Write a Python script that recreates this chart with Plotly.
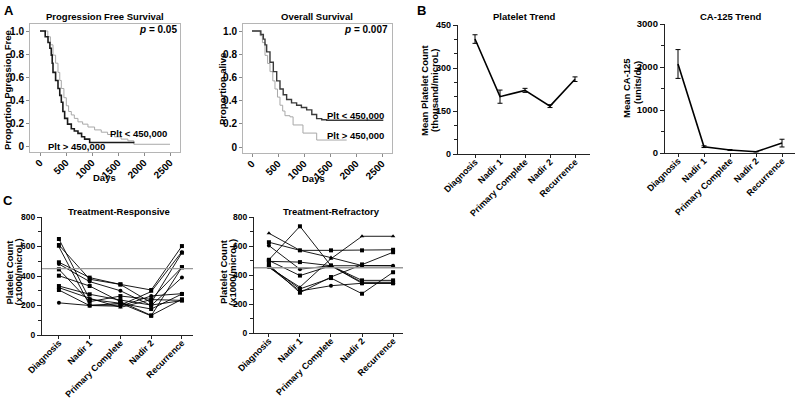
import plotly.graph_objects as go

FONT = "Liberation Sans"

# ---------------- Panel A data (Kaplan-Meier) ----------------
pfs_hi_days = [0, 60, 100, 154, 190, 217, 235, 250, 300, 346, 380, 410, 440, 474, 530, 602, 660, 730, 800, 858, 955, 1800]
pfs_hi_surv = [1.0, 1.0, 0.95, 0.90, 0.85, 0.79, 0.72, 0.64, 0.57, 0.50, 0.44, 0.38, 0.30, 0.24, 0.19, 0.15, 0.13, 0.11, 0.08, 0.06, 0.03, 0.025]
pfs_lo_days = [0, 80, 150, 200, 250, 300, 346, 380, 410, 460, 506, 550, 602, 660, 730, 820, 922, 1050, 1178, 1300, 1434, 1560, 1690, 1805, 2500]
pfs_lo_surv = [1.0, 1.0, 0.95, 0.88, 0.79, 0.72, 0.64, 0.57, 0.50, 0.42, 0.35, 0.30, 0.27, 0.24, 0.21, 0.19, 0.165, 0.14, 0.12, 0.10, 0.08, 0.06, 0.045, 0.015, 0.015]

os_lo_days = [0, 122, 170, 218, 250, 282, 346, 410, 475, 538, 600, 666, 760, 858, 950, 1051, 1150, 1243, 1340, 1436, 2525]
os_lo_surv = [1.0, 1.0, 0.97, 0.93, 0.88, 0.82, 0.73, 0.65, 0.57, 0.50, 0.45, 0.41, 0.38, 0.36, 0.34, 0.32, 0.28, 0.245, 0.235, 0.23, 0.23]
os_hi_days = [0, 100, 154, 200, 250, 300, 346, 400, 442, 490, 538, 590, 634, 730, 790, 980, 1244, 1821]
os_hi_surv = [1.0, 1.0, 0.96, 0.90, 0.79, 0.72, 0.65, 0.57, 0.50, 0.43, 0.36, 0.31, 0.27, 0.26, 0.19, 0.12, 0.06, 0.06]

day_ticks = [0, 500, 1000, 1500, 2000, 2500]
prop_ticks = [0, 0.2, 0.4, 0.6, 0.8, 1.0]
prop_labels = ["0", "0.2", "0.4", "0.6", "0.8", "1.0"]

# ---------------- Panel B data ----------------
stages = ["Diagnosis", "Nadir 1", "Primary Complete", "Nadir 2", "Recurrence"]
plt_mean = [401, 200, 222, 167, 261]
plt_err = [15, 23, 7, 5, 8]
ca_mean = [2070, 147, 70, 30, 230]
ca_err = [335, 20, 10, 5, 90]

# ---------------- Panel C data ----------------
responsive = [
    [651, 242, 215, 130, 460],
    [610, 378, 343, 305, 603],
    [598, 203, 203, 294, 565],
    [493, 389, 343, 219, 558],
    [481, 362, 300, 200, 390],
    [445, 226, 264, 242, 459],
    [402, 332, 226, 133, 242],
    [332, 276, 237, 203, 233],
    [321, 249, 187, 240, 235],
    [305, 199, 215, 176, 278],
    [218, 200, 195, 265, 280],
]
refractory = [
    [688, 570, 520, 465, 464],
    [626, 570, 570, 570, 574],
    [603, 440, 464, 464, 464],
    [505, 736, 464, 363, 363],
    [494, 489, 464, 350, 350],
    [500, 396, 464, 343, 343],
    [453, 316, 512, 667, 667],
    [460, 304, 379, 271, 419],
    [455, 290, 326, 343, 343],
    [470, 278, 386, 473, 557],
]
threshold = 450

# ---------------- helpers ----------------
W, H = 800, 400


def dx(a, b):
    return [a / W, b / W]


def dy(top, bottom):
    return [1 - bottom / H, 1 - top / H]


def tf(size):
    return dict(family=FONT, size=size, color="black", weight="bold")


fig = go.Figure()

# Panel A traces
fig.add_trace(go.Scatter(x=pfs_lo_days, y=pfs_lo_surv, mode="lines", line=dict(color="#a8a8a8", width=1, shape="hv"), xaxis="x", yaxis="y"))
fig.add_trace(go.Scatter(x=pfs_hi_days, y=pfs_hi_surv, mode="lines", line=dict(color="#1a1a1a", width=1.6, shape="hv"), xaxis="x", yaxis="y"))
fig.add_trace(go.Scatter(x=os_hi_days, y=os_hi_surv, mode="lines", line=dict(color="#a8a8a8", width=1, shape="hv"), xaxis="x2", yaxis="y2"))
fig.add_trace(go.Scatter(x=os_lo_days, y=os_lo_surv, mode="lines", line=dict(color="#3a3a3a", width=1.4, shape="hv"), xaxis="x2", yaxis="y2"))

# Panel B traces
fig.add_trace(go.Scatter(x=stages, y=plt_mean, mode="lines", line=dict(color="black", width=1.6),
                         error_y=dict(type="data", array=plt_err, color="black", thickness=1, width=2.5),
                         xaxis="x3", yaxis="y3"))
fig.add_trace(go.Scatter(x=stages, y=ca_mean, mode="lines", line=dict(color="black", width=1.6),
                         error_y=dict(type="data", array=ca_err, color="black", thickness=1, width=2.5),
                         xaxis="x4", yaxis="y4"))

# Panel C traces
syms = ["square", "square", "triangle-up", "square", "circle", "square"]
for i, row in enumerate(responsive):
    fig.add_trace(go.Scatter(x=stages, y=row, mode="lines+markers",
                             line=dict(color="black", width=0.9),
                             marker=dict(symbol=syms[i % len(syms)], size=4, color="black"),
                             xaxis="x5", yaxis="y5"))
for i, row in enumerate(refractory):
    fig.add_trace(go.Scatter(x=stages, y=row, mode="lines+markers",
                             line=dict(color="black", width=0.9),
                             marker=dict(symbol=syms[(i + 2) % len(syms)], size=4, color="black"),
                             xaxis="x6", yaxis="y6"))

# threshold lines
for ax in ["5", "6"]:
    fig.add_shape(type="line", xref=f"x{ax} domain", yref=f"y{ax}", x0=0, x1=1, y0=threshold, y1=threshold,
                  line=dict(color="#999999", width=1.3))

# ---------------- axes ----------------
boxA = dict(showline=True, mirror=True, linecolor="#b5b5b5", linewidth=1, ticks="outside", ticklen=3,
            tickcolor="#8a8a8a", showgrid=False, zeroline=False, tickfont=tf(10), automargin=False)
axB = dict(showline=True, mirror=False, linecolor="#222222", linewidth=1.3, ticks="outside", ticklen=4,
           tickcolor="#222222", tickwidth=1.2, showgrid=False, zeroline=False, automargin=False)


def xcat(domain, rng, anchor):
    d = dict(axB)
    d.update(domain=domain, range=rng, anchor=anchor, type="category", categoryorder="array",
             categoryarray=stages, tickangle=-45, ticklen=3, tickfont=tf(9), ticklabelstandoff=-5)
    return d


def ylin(domain, rng, anchor, tickvals, minor, fsize):
    d = dict(axB)
    d.update(domain=domain, range=rng, anchor=anchor, tickvals=tickvals,
             ticktext=[str(v) for v in tickvals], tickfont=tf(fsize),
             minor=dict(ticks="outside", dtick=minor, tick0=0, ticklen=2.5, tickcolor="#222222", tickwidth=1))
    return d


def xdays(domain, lo_px, zero_px, hi_px, anchor):
    scale = 2500 / (170 - 40)
    d = dict(boxA)
    d.update(domain=domain, range=[(lo_px - zero_px) * scale, (hi_px - zero_px) * scale], anchor=anchor,
             tickvals=day_ticks, ticktext=[str(v) for v in day_ticks], tickangle=-45, ticklabelstandoff=-3)
    return d


def yprop(domain, top_px, one_px, zero_px, bottom_px, anchor):
    s = 1.0 / (zero_px - one_px)
    d = dict(boxA)
    d.update(domain=domain, range=[-(bottom_px - zero_px) * s, 1 + (one_px - top_px) * s], anchor=anchor,
             tickvals=prop_ticks, ticktext=prop_labels)
    return d


fig.update_layout(
    xaxis=xdays(dx(30, 180), 30, 40, 180, "y"),
    yaxis=yprop(dy(24, 152), 24, 31, 146, 152, "x"),
    xaxis2=xdays(dx(243, 392), 243, 252, 392, "y2"),
    yaxis2=yprop(dy(24, 153), 24, 31, 147, 153, "x2"),
    xaxis3=xcat(dx(458, 590), [-0.68, 4.6], "y3"),
    yaxis3=ylin(dy(25, 154), [0, 450], "x3", [0, 150, 300, 450], 50, 9),
    xaxis4=xcat(dx(665, 795), [-0.5, 4.5], "y4"),
    yaxis4=ylin(dy(24, 153), [0, 3000], "x4", [0, 1000, 2000, 3000], 500, 9.5),
    xaxis5=xcat(dx(42, 193), [-0.55, 4.36], "y5"),
    yaxis5=ylin(dy(217, 335), [0, 800], "x5", [0, 200, 400, 600, 800], 100, 8.5),
    xaxis6=xcat(dx(254, 403), [-0.48, 4.32], "y6"),
    yaxis6=ylin(dy(217, 333), [0, 800], "x6", [0, 200, 400, 600, 800], 100, 8.5),
)

# ---------------- text ----------------
anns = []


def ann(text, x, y, size=9.5, angle=0, xanchor="center"):
    anns.append(dict(text=text, x=x / W, y=1 - y / H, xref="paper", yref="paper", showarrow=False,
                     textangle=angle, xanchor=xanchor, yanchor="middle",
                     font=dict(family=FONT, size=size, color="black", weight="bold")))


ann("A", 9, 11, size=13)
ann("B", 421, 11, size=13)
ann("C", 8, 200, size=13)

ann("Progression Free Survival", 105, 17)
ann("Overall Survival", 317, 17)
ann("Platelet Trend", 524, 16.5)
ann("CA-125 Trend", 730.5, 16)
ann("Treatment-Responsive", 119, 211)
ann("Treatment-Refractory", 331, 211)

ann("<i>p</i> = 0.05", 179, 30, size=10, xanchor="right")
ann("<i>p</i> = 0.007", 390, 29.5, size=10, xanchor="right")
ann("Plt < 450,000", 138.5, 133, size=9.5)
ann("Plt > 450,000", 76, 147, size=9.5)
ann("Plt < 450,000", 355.5, 115.5, size=9.5)
ann("Plt > 450,000", 355.5, 135.5, size=9.5)

ann("Days", 104, 177)
ann("Days", 313, 178)
ann("Proportion Pgression Free", 8, 90, angle=-90)
ann("Proportion alive", 222, 89, angle=-90)
ann("Mean Platelet Count", 425, 90, angle=-90)
ann("(thousand/microL)", 434, 91, angle=-90)
ann("Mean CA-125", 627, 88, angle=-90)
ann("(units/dL)", 637, 83, angle=-90)
ann("Platelet Count", 8.5, 272, angle=-90)
ann("(x1000/microL)", 17.5, 272, angle=-90)
ann("Platelet Count", 223, 272, angle=-90)
ann("(x1000/microL)", 232, 272, angle=-90)

fig.update_layout(
    annotations=anns,
    width=W, height=H,
    margin=dict(l=0, r=0, t=0, b=0),
    paper_bgcolor="white", plot_bgcolor="white",
    showlegend=False,
    font=dict(family=FONT, color="black"),
)

fig.write_html("out.html", config={"displayModeBar": False},
               post_script="document.body.style.margin='0';document.body.style.overflow='hidden';")
